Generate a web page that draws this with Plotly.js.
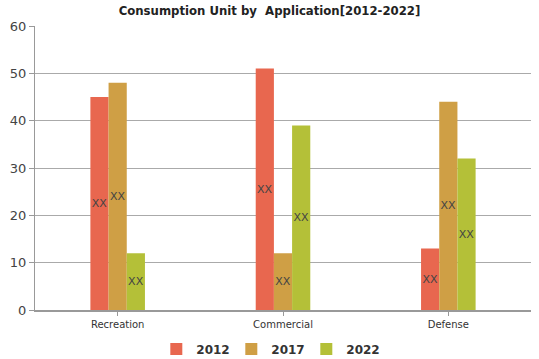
<!DOCTYPE html>
<html>
<head>
<meta charset="utf-8">
<script src="https://cdn.plot.ly/plotly-3.0.1.min.js"></script>
<style>html,body{margin:0;padding:0;background:#fff}#chart{width:539px;height:359px}</style>
</head>
<body>
<div id="chart"></div>
<script>
var categories = ["Recreation", "Commercial", "Defense"];
var seriesNames = ["2012", "2017", "2022"];
var values2012 = [45, 51, 13];
var values2017 = [48, 12, 44];
var values2022 = [12, 39, 32];
var barLabels = ["XX", "XX", "XX"];
var colors = ["#E8674F", "#CF9F45", "#B4C038"];

var allValues = [values2012, values2017, values2022];
var traces = allValues.map(function(v, i){
  return {
    type: "bar",
    name: seriesNames[i],
    x: categories,
    y: v,
    text: barLabels,
    textposition: "inside",
    insidetextanchor: "middle",
    textangle: 0,
    constraintext: "none",
    textfont: {family: "DejaVu Sans", size: 11, color: "#444"},
    marker: {color: colors[i], line: {width: 0}},
    hoverinfo: "none"
  };
});

var layout = {
  width: 539, height: 359,
  margin: {l: 35, r: 8, t: 26, b: 49},
  paper_bgcolor: "#fff", plot_bgcolor: "#fff",
  barmode: "group",
  bargap: 0.67,
  bargroupgap: 0,
  title: {text: "Consumption Unit by  Application[2012-2022]", x: 0.5, xanchor: "center", y: 0.972, yanchor: "middle",
          font: {family: "DejaVu Sans Condensed", size: 13, color: "#222", weight: "bold"}},
  xaxis: {
    showgrid: false, showline: true, linecolor: "#999", linewidth: 2,
    ticks: "outside", ticklen: 4, tickcolor: "#999",
    tickfont: {family: "DejaVu Sans", size: 10, color: "#333"}
  },
  yaxis: {
    range: [0, 60], dtick: 10, showgrid: true, gridcolor: "#aaa", gridwidth: 1,
    showline: true, linecolor: "#999", linewidth: 1,
    ticks: "outside", ticklen: 5, tickcolor: "#999",
    zeroline: false,
    tickfont: {family: "DejaVu Sans", size: 13, color: "#444"}
  },
  legend: {orientation: "h", xref: "container", x: 0.29, xanchor: "left", yref: "container", y: 0.028, yanchor: "middle",
           font: {family: "DejaVu Sans", size: 12, color: "#333", weight: "bold"}, itemwidth: 30,
           entrywidth: 30, entrywidthmode: "pixels"},
  showlegend: true
};
Plotly.newPlot("chart", traces, layout, {displayModeBar: false, staticPlot: true});
</script>
</body>
</html>
